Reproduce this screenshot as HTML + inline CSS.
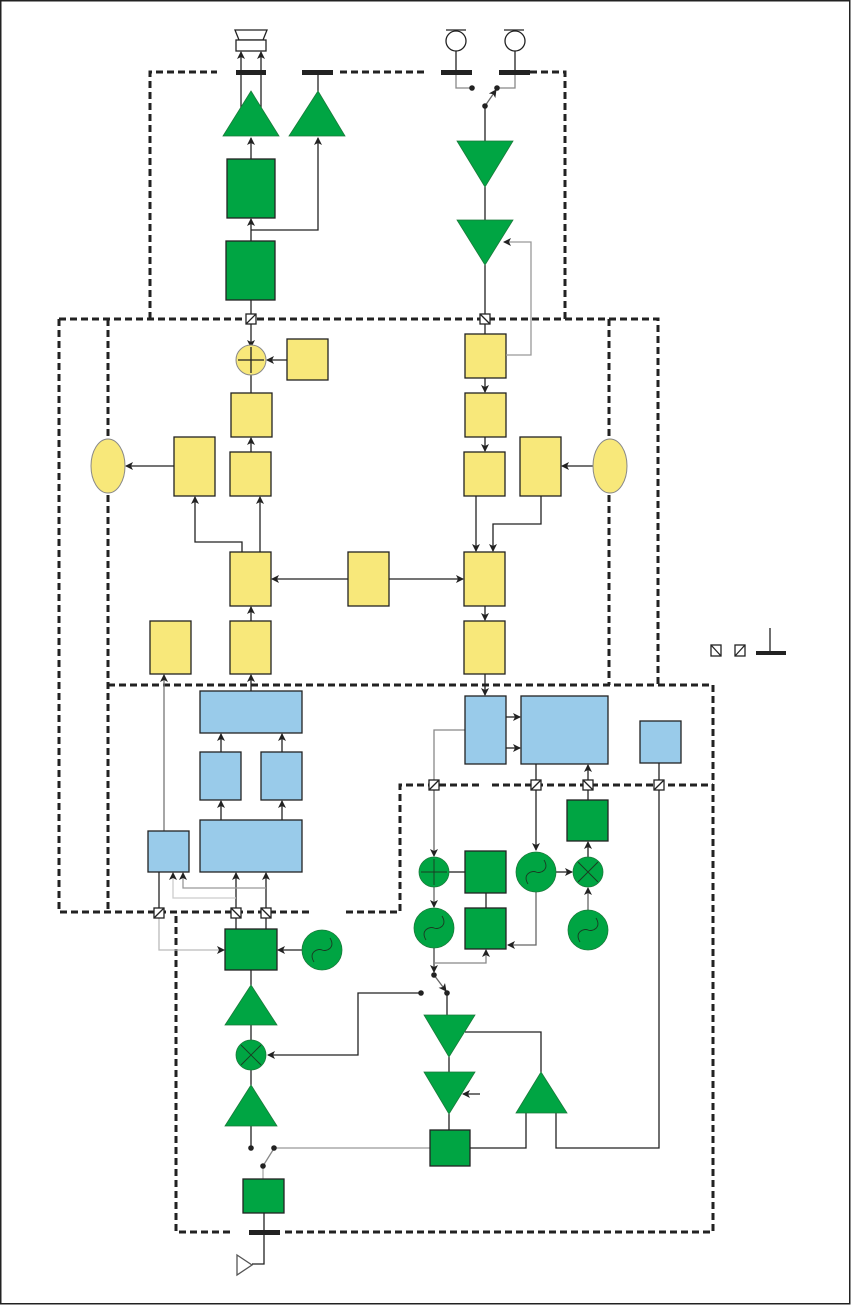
<!DOCTYPE html>
<html><head><meta charset="utf-8"><style>html,body{margin:0;padding:0;background:#fff}svg{display:block}</style></head><body>
<svg width="851" height="1305" viewBox="0 0 851 1305" xmlns="http://www.w3.org/2000/svg">
<defs>
<marker id="a" markerWidth="8" markerHeight="8" refX="7" refY="4" orient="auto" markerUnits="userSpaceOnUse"><path d="M0,0 L8,4 L0,8 L2,4z" fill="#222"/></marker>
</defs>
<rect x="0.75" y="0.75" width="849" height="1303" fill="none" stroke="#222" stroke-width="1.5"/>
<g fill="none" stroke="#222" stroke-width="3" stroke-dasharray="7 4">
<path d="M150,319 V72 H217 M340,72 H425 M530,72 H565 V319"/>
<path d="M59,319 H658 V685"/>
<path d="M59,319 V912 H310 M346,912 H400 V785 H480 M492,785 H713"/>
<path d="M108,319 V912"/>
<path d="M609,319 V685"/>
<path d="M108,685 H713 V1232 H285 M230,1232 H176 V912"/>
</g>
<g stroke="#222" stroke-width="1.3" fill="none">
<!-- top -->
<path d="M241,108 V52" marker-end="url(#a)"/><path d="M261,108 V52" marker-end="url(#a)"/>
<path d="M318,74 V91"/>
<path d="M251,159 V138" marker-end="url(#a)"/>
<path d="M251,241 V219" marker-end="url(#a)"/>
<path d="M251,230 H318 V138" marker-end="url(#a)"/>
<path d="M251,300 V314"/>
<path d="M485,106 V141 M485,187 V220 M485,265 V314"/>
<path d="M456,51 V70 M515,51 V70"/>
<path d="M446,30 H466 M504,30 H524"/>
<!-- yellow -->
<path d="M251,324 V347" marker-end="url(#a)"/>
<path d="M287,360 H267" marker-end="url(#a)"/>
<path d="M251,393 V375"/>
<path d="M251,452 V438" marker-end="url(#a)"/>
<path d="M174,466 H126" marker-end="url(#a)"/>
<path d="M260,552 V497" marker-end="url(#a)"/>
<path d="M242,552 V542 H195 V497" marker-end="url(#a)"/>
<path d="M348,579 H272" marker-end="url(#a)"/>
<path d="M389,579 H463" marker-end="url(#a)"/>
<path d="M251,621 V607" marker-end="url(#a)"/>
<path d="M485,324 V334 M485,378 V392" marker-end="url(#a)"/>
<path d="M485,437 V451" marker-end="url(#a)"/>
<path d="M593,466 H562" marker-end="url(#a)"/>
<path d="M476,496 V551" marker-end="url(#a)"/>
<path d="M541,496 V524 H493 V551" marker-end="url(#a)"/>
<path d="M485,606 V620" marker-end="url(#a)"/>
<path d="M485,674 V695" marker-end="url(#a)"/>
<path d="M770,628 V651"/>
<!-- blue -->
<path d="M251,691 V675" marker-end="url(#a)"/>
<path d="M221,752 V734" marker-end="url(#a)"/><path d="M282,752 V734" marker-end="url(#a)"/>
<path d="M221,820 V801" marker-end="url(#a)"/><path d="M282,820 V801" marker-end="url(#a)"/>
<path d="M159,872 V908"/>
<path d="M236,908 V873" marker-end="url(#a)"/><path d="M266,908 V873" marker-end="url(#a)"/>
<path d="M506,717 H520" marker-end="url(#a)"/><path d="M506,748 H520" marker-end="url(#a)"/>
<path d="M536,764 V780 M536,790 V850" marker-end="url(#a)"/>
<path d="M588,800 V765" marker-end="url(#a)"/>
<path d="M659,763 V1148 H556 V1113"/>
<path d="M434,790 V856" stroke="#666" marker-end="url(#a)"/>
<path d="M465,730 H434 V780" stroke="#888"/>
<path d="M588,857 V842" marker-end="url(#a)"/>
<path d="M556,872 H572" marker-end="url(#a)"/>
<path d="M588,910 V888" stroke="#666" marker-end="url(#a)"/>
<path d="M449,872 H465"/>
<path d="M486,893 V908"/>
<path d="M434,887 V907" stroke="#666" marker-end="url(#a)"/>
<path d="M536,892 V945 H508" stroke="#666" marker-end="url(#a)"/>
<path d="M434,948 V972" stroke="#444" marker-end="url(#a)"/>
<path d="M434,963 H486 V950" stroke="#888" marker-end="url(#a)"/>
<path d="M434,975 L446,991" stroke="#666" marker-end="url(#a)"/>
<!-- green -->
<path d="M236,918 V929 M266,918 V929"/>
<path d="M159,918 V950 H224" stroke="#bbb" marker-end="url(#a)"/>
<path d="M302,950 H278" marker-end="url(#a)"/>
<path d="M251,970 V985 M251,1025 V1040 M251,1070 V1085 M251,1126 V1148"/>
<path d="M421,993 H358 V1055 H268" marker-end="url(#a)"/>
<path d="M447,993 V1015 M449,1057 V1072 M449,1114 V1130"/>
<path d="M480,1094 H463" marker-end="url(#a)"/>
<path d="M465,1032 H541 V1072"/>
<path d="M470,1148 H526 V1113"/>
<path d="M274,1148 H430" stroke="#999"/>
<path d="M263,1166 L273,1150" stroke="#888"/>
<path d="M263,1166 V1179" stroke="#aaa"/>
<path d="M264,1213 V1264 H252"/>
<path d="M456,70 V88 H472 M515,70 V88 H497" stroke="#888"/>
<path d="M485,106 L496,90" stroke="#666" marker-end="url(#a)"/>
</g>
<!-- bars -->
<g fill="#222">
<rect x="236" y="70" width="30" height="5"/><rect x="302" y="70" width="31" height="5"/>
<rect x="441" y="70" width="31" height="5"/><rect x="499" y="70" width="31" height="5"/>
<rect x="756" y="651" width="30" height="4"/><rect x="249" y="1230" width="31" height="5"/>
<circle cx="472" cy="88" r="2.8"/><circle cx="497" cy="88" r="2.8"/><circle cx="485" cy="106" r="2.8"/>
<circle cx="434" cy="975" r="2.8"/><circle cx="421" cy="993" r="2.8"/><circle cx="447" cy="993" r="2.8"/>
<circle cx="251" cy="1148" r="2.8"/><circle cx="274" cy="1148" r="2.8"/><circle cx="263" cy="1166" r="2.8"/>
</g>
<!-- speaker & mics -->
<g stroke="#222" stroke-width="1.3" fill="#fff">
<path d="M235,30 H267 L263,40 H239 Z"/><rect x="236" y="40" width="30" height="11"/>
<circle cx="456" cy="41" r="10"/><circle cx="515" cy="41" r="10"/>
<path d="M237,1255 L252,1265 L237,1275 Z" stroke="#555"/>
</g>
<!-- green shapes -->
<g fill="#00a543" stroke="#222" stroke-width="1.3">
<rect x="227" y="159" width="48" height="59"/><rect x="226" y="241" width="49" height="59"/>
<rect x="567" y="800" width="41" height="41"/><rect x="465" y="851" width="41" height="42"/><rect x="465" y="908" width="41" height="41"/>
<rect x="225" y="929" width="52" height="41"/><rect x="430" y="1130" width="40" height="36"/><rect x="243" y="1179" width="41" height="34"/>
</g>
<g fill="#00a543" stroke="#1a7a3a" stroke-width="0.8">
<path d="M251,91 L279,136 L223,136Z"/><path d="M318,91 L345,136 L289,136Z"/>
<path d="M457,141 H513 L485,187Z"/><path d="M457,220 H513 L485,265Z"/>
<path d="M251,985 L277,1025 L225,1025Z"/><path d="M251,1085 L277,1126 L225,1126Z"/>
<path d="M424,1015 H475 L449,1057Z"/><path d="M424,1072 H475 L449,1114Z"/>
<path d="M541,1072 L567,1113 L516,1113Z"/>
<circle cx="434" cy="872" r="15"/><circle cx="588" cy="872" r="15"/><circle cx="251" cy="1055" r="15"/>
<circle cx="536" cy="872" r="20"/><circle cx="434" cy="928" r="20"/><circle cx="588" cy="930" r="20"/><circle cx="322" cy="950" r="20"/>
</g>
<g stroke="#1a3a22" stroke-width="0.9" fill="none">
<path d="M421,872 H447 M434,859 V885"/>
<path d="M578,862 L598,882 M598,862 L578,882"/>
<path d="M241,1045 L261,1065 M261,1045 L241,1065"/>
<path d="M528,884 C522,874 532,870 536,872 C540,874 550,870 544,860"/>
<path d="M426,940 C420,930 430,926 434,928 C438,930 448,926 442,916"/>
<path d="M580,942 C574,932 584,928 588,930 C592,932 602,928 596,918"/>
<path d="M314,962 C308,952 318,948 322,950 C326,952 336,948 330,938"/>
</g>
<!-- yellow -->
<g fill="#f8e87a" stroke="#222" stroke-width="1.3">
<rect x="287" y="339" width="41" height="41"/><rect x="231" y="393" width="41" height="44"/>
<rect x="230" y="452" width="41" height="44"/><rect x="174" y="437" width="41" height="59"/>
<rect x="230" y="552" width="41" height="54"/><rect x="230" y="621" width="41" height="53"/>
<rect x="150" y="621" width="41" height="53"/><rect x="348" y="552" width="41" height="54"/>
<rect x="465" y="334" width="41" height="44"/><rect x="465" y="393" width="41" height="44"/>
<rect x="464" y="452" width="41" height="44"/><rect x="520" y="437" width="41" height="59"/>
<rect x="464" y="552" width="41" height="54"/><rect x="464" y="621" width="41" height="53"/>
</g>
<g fill="#f8e87a" stroke="#888" stroke-width="1">
<circle cx="251" cy="360" r="15"/>
<ellipse cx="108" cy="466" rx="17" ry="27"/><ellipse cx="610" cy="466" rx="17" ry="27"/>
</g>
<path d="M238,360 H264 M251,347 V373" stroke="#222" stroke-width="1.3"/>
<path d="M506,355 H531 V242 H504" stroke="#999" stroke-width="1.3" fill="none" marker-end="url(#a)"/>
<path d="M164,831 V675" stroke="#777" stroke-width="1.3" fill="none" marker-end="url(#a)"/>
<path d="M236,898 H173 V873" stroke="#ccc" stroke-width="1.3" fill="none" marker-end="url(#a)"/>
<path d="M266,888 H183 V873" stroke="#999" stroke-width="1.3" fill="none" marker-end="url(#a)"/>
<!-- blue -->
<g fill="#99cbea" stroke="#222" stroke-width="1.3">
<rect x="200" y="691" width="102" height="42"/><rect x="200" y="752" width="41" height="48"/><rect x="261" y="752" width="41" height="48"/>
<rect x="200" y="820" width="102" height="52"/><rect x="148" y="831" width="41" height="41"/>
<rect x="465" y="696" width="41" height="68"/><rect x="521" y="696" width="87" height="68"/><rect x="640" y="721" width="41" height="42"/>
</g>
<!-- converters -->
<g stroke="#222" stroke-width="1.3" fill="#fff">
<rect x="246" y="314" width="10" height="10"/><path d="M246,324 L256,314"/>
<rect x="480" y="314" width="10" height="10"/><path d="M480,314 L490,324"/>
<rect x="711" y="645" width="10" height="11"/><path d="M711,645 L721,656"/>
<rect x="735" y="645" width="10" height="11"/><path d="M735,656 L745,645"/>
<rect x="154" y="908" width="10" height="10"/><path d="M154,918 L164,908"/>
<rect x="231" y="908" width="10" height="10"/><path d="M231,908 L241,918"/>
<rect x="261" y="908" width="10" height="10"/><path d="M261,908 L271,918"/>
<rect x="429" y="780" width="10" height="10"/><path d="M429,790 L439,780"/>
<rect x="531" y="780" width="10" height="10"/><path d="M531,790 L541,780"/>
<rect x="583" y="780" width="10" height="10"/><path d="M583,780 L593,790"/>
<rect x="654" y="780" width="10" height="10"/><path d="M654,790 L664,780"/>
</g>
</svg>
</body></html>
